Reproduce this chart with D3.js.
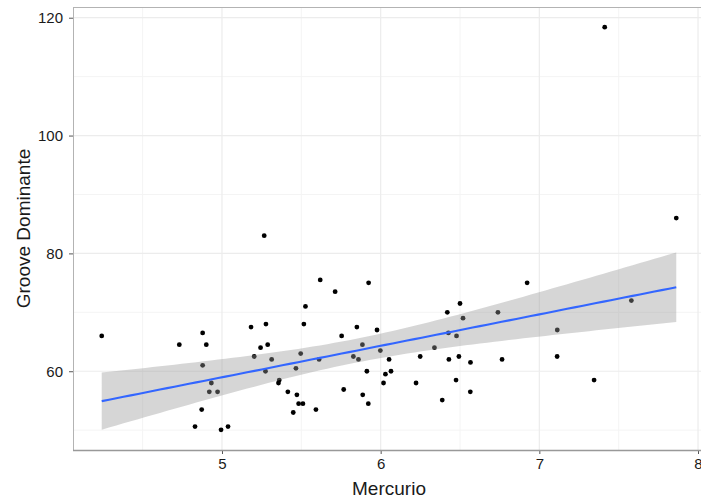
<!DOCTYPE html>
<html>
<head>
<meta charset="utf-8">
<script src="https://cdn.jsdelivr.net/npm/d3@7"></script>
<style>
  body { margin: 0; background: #fff; }
  svg { display: block; font-family: "Liberation Sans", Arial, sans-serif; }
</style>
</head>
<body>
<svg id="chart" width="701" height="502"></svg>
<script>
// values (Mercurio vs Groove Dominante)
const mercurio = [
  4.242, 5.266, 5.619, 5.713, 5.924, 5.526, 5.516, 5.183, 5.277, 4.878,
  4.731, 4.901, 5.243, 5.288, 5.203, 5.313, 5.754, 5.850, 5.977, 5.885,
  5.496, 5.612, 5.828, 5.860, 5.998, 4.878, 5.274, 5.466, 5.913, 4.933,
  4.920, 4.972, 5.361, 5.356, 5.415, 5.472, 5.767, 5.887, 5.483, 5.510,
  5.922, 4.872, 5.449, 5.592, 4.830, 4.994, 5.038, 7.412, 7.863, 6.923,
  6.500, 6.420, 6.519, 6.739, 6.427, 6.478, 7.113, 7.580, 6.339, 6.053,
  6.249, 6.430, 6.493, 6.566, 6.765, 7.112, 6.030, 6.065, 6.018, 6.223,
  6.475, 7.345, 6.388, 6.565
];
const groove = [
  66.0, 83.0, 75.5, 73.5, 75.0, 71.0, 68.0, 67.5, 68.0, 66.5,
  64.5, 64.5, 64.0, 64.5, 62.5, 62.0, 66.0, 67.5, 67.0, 64.5,
  63.0, 62.0, 62.5, 62.0, 63.5, 61.0, 60.0, 60.5, 60.0, 58.0,
  56.5, 56.5, 58.5, 58.0, 56.5, 56.0, 56.9, 56.0, 54.5, 54.5,
  54.5, 53.5, 53.0, 53.5, 50.6, 50.05, 50.6, 118.4, 86.0, 75.0,
  71.5, 70.0, 69.0, 70.0, 66.5, 66.0, 67.0, 72.0, 64.0, 62.0,
  62.5, 62.0, 62.5, 61.5, 62.0, 62.5, 59.5, 60.0, 58.0, 58.0,
  58.5, 58.5, 55.1, 56.5
];
const xTicks = [5, 6, 7, 8];
const yTicks = [60, 80, 100, 120];
const xMinor = [4.5, 5.5, 6.5, 7.5];
const yMinor = [50, 70, 90, 110];

const data = mercurio.map((x, i) => ({ x: x, y: groove[i] }));

const svg = d3.select("#chart");

const pLeft = 73, pTop = 7, pRight = 705, pBottom = 450;

function expand(ext) {
  const pad = (ext[1] - ext[0]) * 0.05;
  return [ext[0] - pad, ext[1] + pad];
}

const x = d3.scaleLinear().domain(expand(d3.extent(mercurio))).range([pLeft, pRight]);
const y = d3.scaleLinear().domain(expand(d3.extent(groove))).range([pBottom, pTop]);

// --------------------------------------------------
// linear fit + 95% confidence band (like geom_smooth(method = "lm"))
// --------------------------------------------------
const n = data.length;
const mx = d3.mean(mercurio), my = d3.mean(groove);
let sxx = 0, sxy = 0;
data.forEach(d => { sxx += (d.x - mx) ** 2; sxy += (d.x - mx) * (d.y - my); });
const slope = sxy / sxx;
const icpt = my - slope * mx;
let sse = 0;
data.forEach(d => { sse += (d.y - icpt - slope * d.x) ** 2; });
const sigma = Math.sqrt(sse / (n - 2));
const tq = 1.9935; // qt(0.975, 72)

const xe = d3.extent(mercurio);
const fit = d3.range(80).map(i => {
  const xv = xe[0] + (xe[1] - xe[0]) * i / 79;
  const yv = icpt + slope * xv;
  const se = sigma * Math.sqrt(1 / n + (xv - mx) ** 2 / sxx);
  return { x: xv, y: yv, lo: yv - tq * se, hi: yv + tq * se };
});

// --------------------------------------------------
// PANEL + GRID
// --------------------------------------------------
svg.append("rect")
  .attr("x", pLeft).attr("y", pTop)
  .attr("width", pRight - pLeft).attr("height", pBottom - pTop)
  .attr("fill", "#fff");

const grid = svg.append("g");

grid.selectAll("line.vminor").data(xMinor).enter().append("line")
  .attr("x1", d => x(d)).attr("x2", d => x(d))
  .attr("y1", pTop).attr("y2", pBottom)
  .attr("stroke", "#f4f4f4").attr("stroke-width", 1);

grid.selectAll("line.hminor").data(yMinor).enter().append("line")
  .attr("y1", d => y(d)).attr("y2", d => y(d))
  .attr("x1", pLeft).attr("x2", pRight)
  .attr("stroke", "#f4f4f4").attr("stroke-width", 1);

grid.selectAll("line.vmajor").data(xTicks).enter().append("line")
  .attr("x1", d => x(d)).attr("x2", d => x(d))
  .attr("y1", pTop).attr("y2", pBottom)
  .attr("stroke", "#ececec").attr("stroke-width", 1.2);

grid.selectAll("line.hmajor").data(yTicks).enter().append("line")
  .attr("y1", d => y(d)).attr("y2", d => y(d))
  .attr("x1", pLeft).attr("x2", pRight)
  .attr("stroke", "#ececec").attr("stroke-width", 1.2);

// --------------------------------------------------
// POINTS, then band and line on top
// --------------------------------------------------
svg.append("g")
  .selectAll("circle")
  .data(data)
  .enter()
  .append("circle")
  .attr("cx", d => x(d.x))
  .attr("cy", d => y(d.y))
  .attr("r", 2.4)
  .attr("fill", "#000");

svg.append("path")
  .datum(fit)
  .attr("d", d3.area().x(d => x(d.x)).y0(d => y(d.lo)).y1(d => y(d.hi)))
  .attr("fill", "#999999")
  .attr("fill-opacity", 0.4);

svg.append("path")
  .datum(fit)
  .attr("d", d3.line().x(d => x(d.x)).y(d => y(d.y)))
  .attr("fill", "none")
  .attr("stroke", "#3366FF")
  .attr("stroke-width", 2.1);

// panel border
svg.append("line")
  .attr("x1", pLeft).attr("x2", pRight).attr("y1", pTop + 0.5).attr("y2", pTop + 0.5)
  .attr("stroke", "#b3b3b3");

// --------------------------------------------------
// AXES
// --------------------------------------------------
const xAxis = svg.append("g")
  .attr("transform", `translate(0,${pBottom})`)
  .call(d3.axisBottom(x).tickValues(xTicks).tickSize(4).tickPadding(4).tickFormat(d3.format("d")));

const yAxis = svg.append("g")
  .attr("transform", `translate(${pLeft},0)`)
  .call(d3.axisLeft(y).tickValues(yTicks).tickSize(4).tickPadding(6).tickFormat(d3.format("d")));

[xAxis, yAxis].forEach(a => {
  a.select(".domain").remove();
  a.selectAll(".tick line").attr("stroke", "#555");
  a.selectAll(".tick text")
    .attr("fill", "#1a1a1a")
    .style("font-size", "15px")
    .style("font-family", "'Liberation Sans', Arial, sans-serif");
});

svg.append("line")
  .attr("x1", pLeft + 0.5).attr("x2", pLeft + 0.5).attr("y1", pTop).attr("y2", pBottom)
  .attr("stroke", "#b3b3b3");

svg.append("line")
  .attr("x1", pLeft).attr("x2", pRight).attr("y1", pBottom + 0.5).attr("y2", pBottom + 0.5)
  .attr("stroke", "#999").attr("stroke-width", 1.5);

// titles
svg.append("text")
  .attr("x", (pLeft + pRight) / 2)
  .attr("y", 495)
  .attr("text-anchor", "middle")
  .attr("fill", "#1a1a1a")
  .style("font-size", "19px")
  .text("Mercurio");

svg.append("text")
  .attr("transform", `translate(30,${(pTop + pBottom) / 2}) rotate(-90)`)
  .attr("text-anchor", "middle")
  .attr("fill", "#1a1a1a")
  .style("font-size", "19px")
  .text("Groove Dominante");
</script>
</body>
</html>
